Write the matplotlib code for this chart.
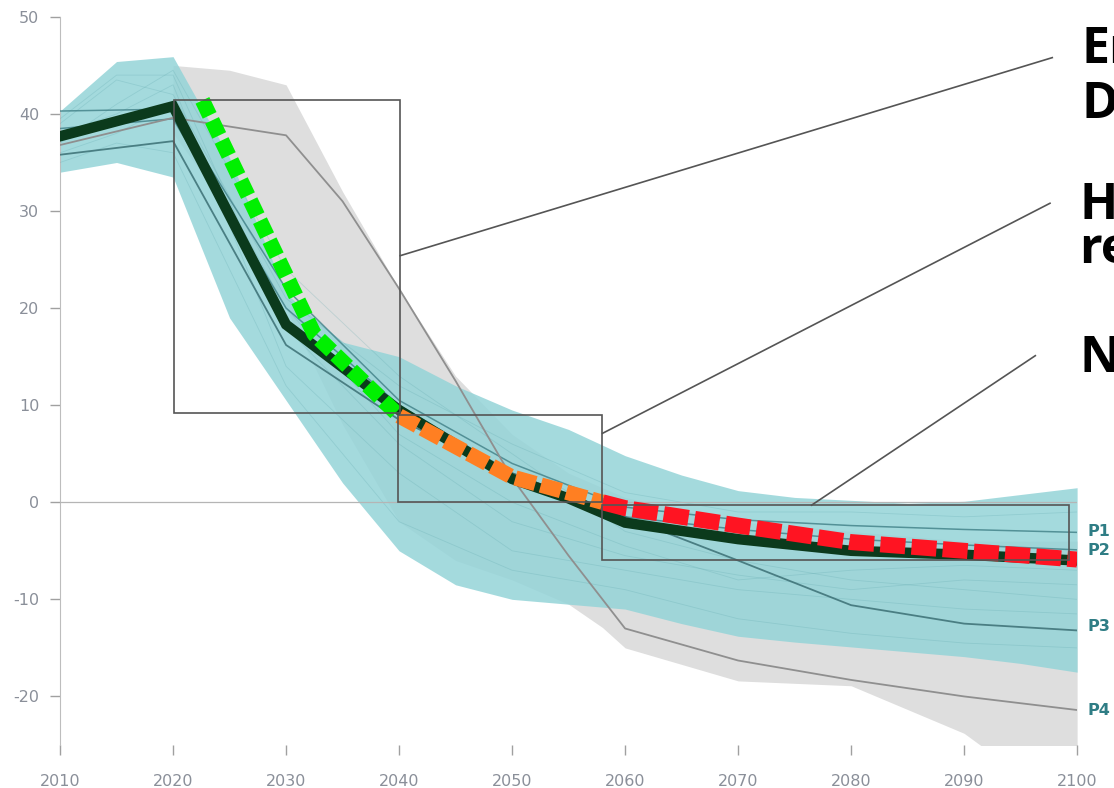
"""Emissions pathways with highlighted phases"""
import matplotlib
matplotlib.use('Agg')
import matplotlib.pyplot as plt
from matplotlib.patches import Rectangle

plt.rcParams['font.family'] = ['DejaVu Sans']
plt.rcParams['lines.scale_dashes'] = False
plt.rcParams['axes.unicode_minus'] = False

# envelopes
band_years = [2010, 2015, 2020, 2025, 2030, 2035, 2040, 2045, 2050, 2055, 2060, 2065, 2070, 2075, 2080, 2085, 2090, 2095, 2100]
teal_upper = [40.3, 45.4, 45.9, 35.5, 21.5, 16.5, 15.0, 12.0, 9.5, 7.5, 4.8, 2.8, 1.2, 0.5, 0.2, -0.1, 0.1, 0.8, 1.5]
teal_lower = [34.0, 35.0, 33.5, 19.0, 10.5, 2.0, -5.0, -8.5, -10.0, -10.5, -11.0, -12.5, -13.8, -14.4, -14.9, -15.4, -15.9, -16.6, -17.5]

gray_years = [2020, 2025, 2030, 2035, 2040, 2045, 2050, 2055, 2058, 2060, 2070, 2080, 2090, 2092, 2100]
gray_upper = [45.0, 44.5, 43.0, 32.0, 22.0, 13.0, 7.0, 3.0, 1.5, 0.5, -2.0, -3.0, -4.0, -4.0, -4.0]
gray_lower = [38.0, 30.0, 20.0, 8.0, -2.0, -6.0, -8.0, -10.5, -12.9, -15.0, -18.4, -18.9, -23.8, -25.5, -27.0]

# highlighted pathway (dark) and phased dashed pathway
main_years = [2010, 2020, 2030, 2040, 2050, 2055, 2060, 2070, 2080, 2090, 2100]
main_vals = [37.7, 40.8, 18.3, 9.5, 2.4, 0.4, -2.1, -3.8, -5.0, -5.4, -6.0]

dash_years = [2022.6, 2032.5, 2040, 2050, 2058, 2060, 2070, 2080, 2090, 2100]
dash_vals = [41.4, 17.3, 8.9, 2.6, 0.0, -0.6, -2.4, -4.1, -5.0, -5.9]

# labelled pathways
line_years = [2010, 2020, 2030, 2040, 2050, 2060, 2070, 2080, 2090, 2100]
p1 = [40.3, 40.5, 22.0, 10.5, 4.0, -0.5, -1.8, -2.4, -2.8, -3.1]
p2 = [38.5, 39.5, 20.0, 10.0, 3.0, -1.5, -2.8, -3.8, -4.4, -4.9]
p3 = [35.8, 37.2, 16.2, 8.5, 3.0, -1.5, -6.0, -10.6, -12.5, -13.2]
p4_years = [2010, 2020, 2030, 2035, 2040, 2045, 2050, 2055, 2060, 2070, 2080, 2090, 2100]
p4 = [36.8, 39.6, 37.8, 31.0, 22.0, 12.5, 2.5, -5.5, -13.0, -16.3, -18.3, -20.0, -21.4]

# faint ensemble members
faint_years = [2010, 2015, 2020, 2030, 2040, 2050, 2060, 2070, 2080, 2090, 2100]
faint_lines = [
    [39.0, 43.5, 42.0, 21.0, 12.0, 6.0, 1.0, -1.0, -1.0, -1.5, -1.0],
    [37.0, 41.0, 44.5, 24.0, 13.0, 5.0, -3.0, -6.0, -8.0, -9.0, -10.0],
    [38.0, 40.0, 43.0, 14.0, 3.0, -5.0, -7.0, -9.0, -10.0, -11.0, -11.5],
    [35.0, 37.0, 36.0, 12.0, -2.0, -7.0, -9.0, -12.0, -13.5, -14.5, -15.0],
    [36.0, 38.0, 41.0, 20.0, 7.0, 0.0, -4.5, -8.0, -7.0, -6.5, -7.0],
    [39.5, 44.0, 44.0, 18.0, 6.0, -2.0, -5.5, -7.5, -9.0, -8.0, -8.5],
]

# zoom boxes (x0, x1, y0, y1) and connector lines
boxes = [(2020.1, 2040.1, 9.2, 41.4), (2039.9, 2058.0, 0.0, 9.0), (2058.0, 2099.3, -5.9, -0.3)]
connectors = [((2040.1, 25.4), (2097.8, 45.8)),
              ((2058.0, 7.1), (2097.6, 30.8)),
              ((2076.5, -0.3), (2096.3, 15.1))]

labels = ['P1', 'P2', 'P3', 'P4']
label_vals = [-3.0, -5.0, -12.8, -21.4]

fig = plt.figure(figsize=(11.14, 7.88), dpi=100)
ax = fig.add_axes([0.0539, 0.0546, 0.913, 0.924])

ax.fill_between(gray_years, gray_lower, gray_upper, color='#dedede', lw=0, zorder=1)
ax.fill_between(band_years, teal_lower, teal_upper, color='#94d4d8', alpha=0.85, lw=0, zorder=2)

for vals in faint_lines:
    ax.plot(faint_years, vals, color='#5aa4aa', lw=0.6, alpha=0.25, zorder=3)

ax.axhline(0, color='#b5b5b5', lw=0.9, zorder=3)

ax.plot(line_years, p1, color='#3f7f86', lw=1.1, alpha=0.8, zorder=4)
ax.plot(line_years, p2, color='#3f7f86', lw=1.1, alpha=0.8, zorder=4)
ax.plot(line_years, p3, color='#3b6f74', lw=1.3, alpha=0.85, zorder=4)
ax.plot(p4_years, p4, color='#8f8f8f', lw=1.3, zorder=4)

ax.plot(main_years, main_vals, color='#0b3a1c', lw=7.5, solid_joinstyle='miter', zorder=5)

ax.plot(dash_years[:3], dash_vals[:3], color='#00f000', lw=11, dashes=(12, 4),
        dash_capstyle='butt', zorder=6)
ax.plot(dash_years[2:5], dash_vals[2:5], color='#ff7f22', lw=11, dashes=(15, 4),
        dash_capstyle='butt', zorder=6)
ax.plot(dash_years[4:], dash_vals[4:], color='#ff1422', lw=11.5, dashes=(18, 4.5),
        dash_capstyle='butt', zorder=6)

for x0, x1, y0, y1 in boxes:
    ax.add_patch(Rectangle((x0, y0), x1 - x0, y1 - y0, fill=False,
                           edgecolor='#555555', lw=1.2, zorder=7))
for (xa, ya), (xb, yb) in connectors:
    ax.plot([xa, xb], [ya, yb], color='#555555', lw=1.2, zorder=7, clip_on=False)

for lab, v in zip(labels, label_vals):
    ax.text(2100.9, v, lab, color='#2f7d85', fontsize=11.5, fontweight='bold',
            va='center', ha='left', clip_on=False)

ax.set_xlim(2010, 2100)
ax.set_ylim(-25, 50)
ax.set_xticks(range(2010, 2101, 10))
ax.set_yticks(range(-20, 51, 10))
ax.tick_params(axis='both', colors='#a0a0a0', labelcolor='#8a8f99', labelsize=11.5, length=7, width=1)
ax.tick_params(axis='x', pad=14)
ax.tick_params(axis='y', pad=8)

for side in ['top', 'right', 'bottom']:
    ax.spines[side].set_visible(False)
ax.spines['left'].set_color('#bdbdbd')
ax.patch.set_alpha(0)

# headings cut by the right edge of the figure
head = dict(fontsize=36, fontweight='bold', family=['Open Sans', 'DejaVu Sans'],
            va='baseline', ha='left')
fig.text(1082 / 1114, 1 - 118 / 788, 'En\nD', linespacing=1.12, **head)
fig.text(1079 / 1114, 1 - 263 / 788, 'H\nre', linespacing=0.85, **head)
fig.text(1079 / 1114, 1 - 372 / 788, 'N', **head)

plt.savefig('out.png', dpi=100)
plt.close(fig)
